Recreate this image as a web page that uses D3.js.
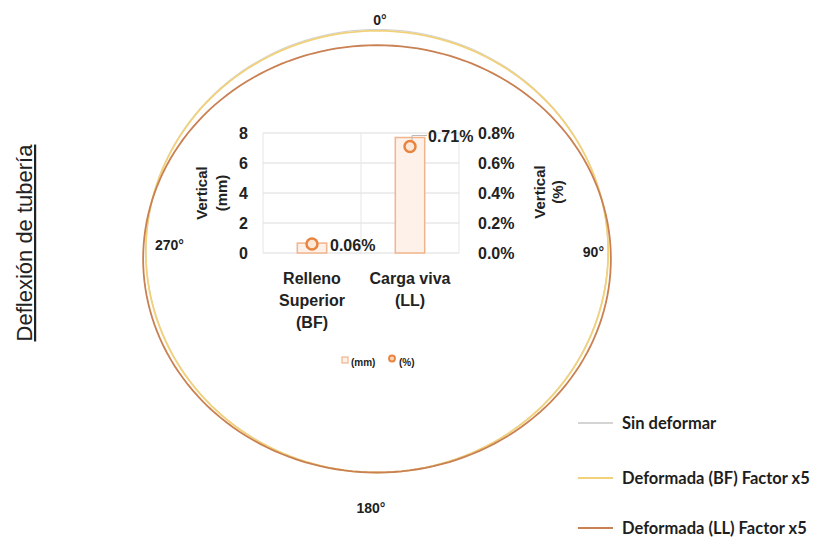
<!DOCTYPE html>
<html>
<head>
<meta charset="utf-8">
<script src="https://cdn.jsdelivr.net/npm/d3@7"></script>
<style>
  html, body { margin: 0; padding: 0; background: #ffffff; }
  svg { display: block; }
</style>
</head>
<body>
<svg id="chart" width="814" height="541"></svg>
<script>
// ---- Data ----
const categories = ["Relleno Superior (BF)", "Carga viva (LL)"];
const categoryLines = [["Relleno", "Superior", "(BF)"], ["Carga viva", "(LL)"]];
const deflectionMm = [0.66, 7.7];          // vertical deflection, mm
const deflectionPct = [0.06, 0.71];        // vertical deflection, % of diameter
const pctLabels = ["0.06%", "0.71%"];
const mmTicks = [0, 2, 4, 6, 8];
const pctTicks = [0, 0.2, 0.4, 0.6, 0.8];
const pctTickLabels = ["0.0%", "0.2%", "0.4%", "0.6%", "0.8%"];
const amplification = 5;                   // deformed shapes drawn at x5
const angleLabels = ["0°", "90°", "180°", "270°"];
const shapeNames = ["Sin deformar", "Deformada (BF) Factor x5", "Deformada (LL) Factor x5"];
const shapeDeflection = [0, deflectionPct[0], deflectionPct[1]];
const shapeColors = ["#d4d4d4", "#f1d27a", "#c98052"];

const svg = d3.select("#chart");
const FONT = "'Liberation Sans', Arial, sans-serif";

// ---- Pipe cross-section (normalised radius = 1) ----
const px = d3.scaleLinear().domain([-1, 1]).range([146, 608]);
const py = d3.scaleLinear().domain([-1, 1]).range([472.5, 29.5]);
const horizontalRatio = 0.35;              // horizontal growth relative to vertical shortening
const angles = d3.range(0, 360, 2).map(a => a * Math.PI / 180);

function pipeShape(pct) {
  const d = amplification * pct / 100;
  return angles.map(t => [
    (1 + horizontalRatio * d) * Math.sin(t),
    -1 + (1 - d) * (1 + Math.cos(t))       // invert stays resting on its base
  ]);
}

const pipeLine = d3.line().x(p => px(p[0])).y(p => py(p[1])).curve(d3.curveLinearClosed);

svg.append("g").selectAll("path")
  .data(shapeDeflection)
  .join("path")
  .attr("d", d => pipeLine(pipeShape(d)))
  .attr("fill", "none")
  .attr("stroke", (d, i) => shapeColors[i])
  .attr("stroke-width", (d, i) => i === 0 ? 1.2 : 1.8);

// angle labels around the section
const anglePos = [
  { x: px(0) + 3, y: py(1) - 5, anchor: "middle" },
  { x: px(1) - 4, y: py(0) + 6, anchor: "end" },
  { x: px(0) - 6, y: py(-1) + 40, anchor: "middle" },
  { x: px(-1) + 9, y: py(0) - 1, anchor: "start" }
];
svg.append("g").selectAll("text")
  .data(angleLabels)
  .join("text")
  .attr("x", (d, i) => anglePos[i].x)
  .attr("y", (d, i) => anglePos[i].y)
  .attr("text-anchor", (d, i) => anglePos[i].anchor)
  .attr("font-family", FONT)
  .attr("font-weight", "bold")
  .attr("font-size", 14)
  .attr("fill", "#1e1e1e")
  .text(d => d);

// ---- Inset bar / marker chart ----
const x = d3.scaleBand().domain(categories).range([263, 459]);
const yMm = d3.scaleLinear().domain([0, 8]).range([253, 133]);
const yPct = d3.scaleLinear().domain([0, 0.8]).range([253, 133]);
const inset = svg.append("g");
const TXT = 16;

// gridlines
inset.append("g").selectAll("line")
  .data(mmTicks)
  .join("line")
  .attr("x1", 263).attr("x2", 459)
  .attr("y1", d => yMm(d)).attr("y2", d => yMm(d))
  .attr("stroke", "#dcdcdc").attr("stroke-width", 1);
inset.append("g").selectAll("line")
  .data([x(categories[0]), x(categories[1]), x(categories[1]) + x.bandwidth()])
  .join("line")
  .attr("x1", d => d).attr("x2", d => d)
  .attr("y1", yMm(8)).attr("y2", yMm(0))
  .attr("stroke", "#e6e6e6").attr("stroke-width", 1);

// bars (mm)
const barW = x.bandwidth() * 0.3;
inset.append("g").selectAll("rect")
  .data(categories)
  .join("rect")
  .attr("x", d => x(d) + x.bandwidth() / 2 - barW / 2)
  .attr("width", barW)
  .attr("y", (d, i) => yMm(deflectionMm[i]))
  .attr("height", (d, i) => yMm(0) - yMm(deflectionMm[i]))
  .attr("fill", "#fdf1e9")
  .attr("stroke", "#f2b48a")
  .attr("stroke-width", 1.5);

// leader line for the upper label
const cx1 = x(categories[1]) + x.bandwidth() / 2;
inset.append("path")
  .attr("d", `M${cx1 + 2},${yPct(deflectionPct[1]) - 6}V${yPct(deflectionPct[1]) - 11}H${cx1 + 17}`)
  .attr("fill", "none").attr("stroke", "#b9b9b9").attr("stroke-width", 1);

// markers (%)
inset.append("g").selectAll("circle")
  .data(categories)
  .join("circle")
  .attr("cx", d => x(d) + x.bandwidth() / 2)
  .attr("cy", (d, i) => yPct(deflectionPct[i]))
  .attr("r", 5.5)
  .attr("fill", "#fde7d6")
  .attr("stroke", "#e8843f")
  .attr("stroke-width", 2.5);

// marker value labels
const labelDy = [1, -10];
inset.append("g").selectAll("text")
  .data(categories)
  .join("text")
  .attr("x", d => x(d) + x.bandwidth() / 2 + 18)
  .attr("y", (d, i) => yPct(deflectionPct[i]) + labelDy[i])
  .attr("dominant-baseline", "central")
  .attr("font-family", FONT).attr("font-weight", "bold").attr("font-size", TXT)
  .attr("fill", "#222")
  .text((d, i) => pctLabels[i]);

// left axis (mm)
const axL = inset.append("g")
  .attr("transform", "translate(251,0)")
  .call(d3.axisLeft(yMm).tickValues(mmTicks).tickSize(0).tickPadding(3).tickFormat(d3.format("d")));
axL.select(".domain").remove();
axL.selectAll("text").attr("font-family", FONT).attr("font-weight", "bold").attr("font-size", TXT).attr("fill", "#222");

// right axis (%)
const axR = inset.append("g")
  .attr("transform", "translate(476,0)")
  .call(d3.axisRight(yPct).tickValues(pctTicks).tickSize(0).tickPadding(2).tickFormat((d, i) => pctTickLabels[i]));
axR.select(".domain").remove();
axR.selectAll("text").attr("font-family", FONT).attr("font-weight", "bold").attr("font-size", TXT).attr("fill", "#222");

// category labels
const catG = inset.append("g").selectAll("text")
  .data(categories)
  .join("text")
  .attr("text-anchor", "middle")
  .attr("font-family", FONT).attr("font-weight", "bold").attr("font-size", TXT)
  .attr("fill", "#222");
catG.selectAll("tspan")
  .data((d, i) => categoryLines[i].map(t => ({ t, cx: x(d) + x.bandwidth() / 2 })))
  .join("tspan")
  .attr("x", d => d.cx)
  .attr("y", (d, j) => 284 + j * 22)
  .text(d => d.t);

// axis titles
function axisTitle(lines, cx, cy, gap) {
  const t = inset.append("text")
    .attr("transform", `translate(${cx},${cy}) rotate(-90)`)
    .attr("text-anchor", "middle")
    .attr("font-family", FONT).attr("font-weight", "bold").attr("font-size", 15)
    .attr("fill", "#222");
  lines.forEach((l, j) => t.append("tspan").attr("x", 0).attr("y", j * gap).text(l));
}
axisTitle(["Vertical", "(mm)"], 207, 193, 20);
axisTitle(["Vertical", "(%)"], 545, 192, 18);

// inset legend
const lg = inset.append("g").attr("font-family", FONT).attr("font-weight", "bold").attr("font-size", 10).attr("fill", "#222");
lg.append("rect").attr("x", 342).attr("y", 357).attr("width", 6).attr("height", 6)
  .attr("fill", "#fdf1e9").attr("stroke", "#f2b48a").attr("stroke-width", 1.2);
lg.append("text").attr("x", 351).attr("y", 366).text("(mm)");
lg.append("circle").attr("cx", 392).attr("cy", 358.5).attr("r", 3)
  .attr("fill", "#fbd3b5").attr("stroke", "#e8843f").attr("stroke-width", 1.8);
lg.append("text").attr("x", 399).attr("y", 366).text("(%)");

// ---- Side title ----
svg.append("text")
  .attr("transform", "translate(32,243) rotate(-90)")
  .attr("text-anchor", "middle")
  .attr("font-family", FONT).attr("font-size", 22)
  .attr("text-decoration", "underline")
  .attr("fill", "#222")
  .text("Deflexión de tubería");

// ---- Shape legend ----
const legendY = [423, 478, 528];
const lgd = svg.append("g").selectAll("g")
  .data(shapeNames)
  .join("g")
  .attr("transform", (d, i) => `translate(0,${legendY[i]})`);
lgd.append("line").attr("x1", 578).attr("x2", 613).attr("y1", 0).attr("y2", 0)
  .attr("stroke", (d, i) => shapeColors[i]).attr("stroke-width", 2);
lgd.append("text").attr("x", 622).attr("y", 0).attr("dominant-baseline", "central")
  .attr("font-family", "Lato, 'Open Sans', sans-serif").attr("font-weight", "bold").attr("font-size", 16.5)
  .attr("fill", "#1e1e1e")
  .text(d => d);
</script>
</body>
</html>
